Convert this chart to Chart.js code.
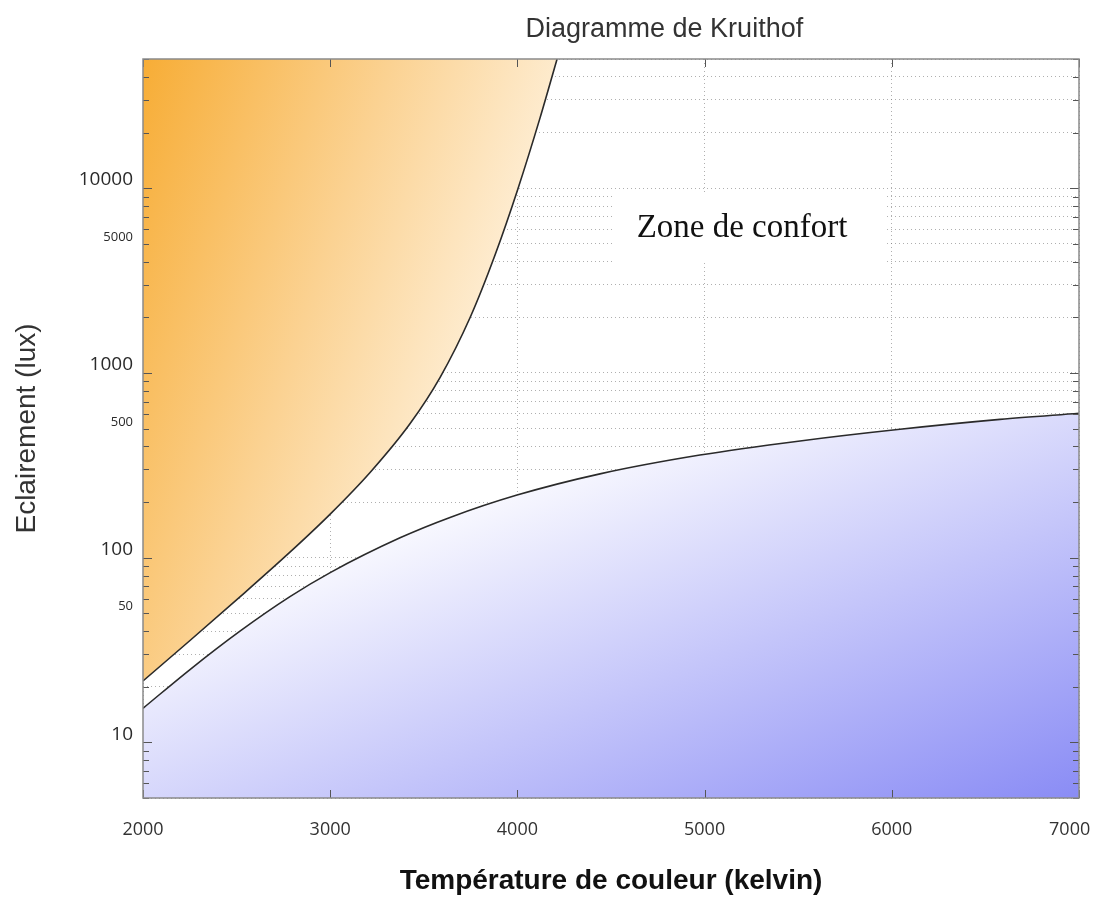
<!DOCTYPE html>
<html lang="fr">
<head>
<meta charset="UTF-8">
<title>Diagramme de Kruithof</title>
<script src="https://cdn.jsdelivr.net/npm/chart.js"></script>
<style>
  * { margin: 0; padding: 0; box-sizing: border-box; }
  html, body { width: 1097px; height: 898px; background: #fff; overflow: hidden; }
</style>
</head>
<body>
<canvas id="chart" width="1097" height="898"></canvas>
<script>
// limite haute : au-dessus, lumière trop chaude (zone orangée)
const upperK   = [2000, 2251, 2518, 2785, 3000, 3213, 3427, 3588, 3748, 3880, 4003, 4121, 4212];
const upperLux = [21.5, 35.6, 61.3, 107, 172, 289, 532, 949, 2000, 4330, 9930, 24000, 50000];

// limite basse : en dessous, lumière trop froide (zone bleutée)
const lowerK   = [2000, 2251, 2518, 2785, 3000, 3373, 3640, 3998, 4441, 4975, 5510, 6044, 6578, 7000];
const lowerLux = [15.3, 24.8, 40, 61.5, 83, 128, 165, 218, 284, 359, 428, 495, 560, 605];

// graduations
const gridLux    = [5, 6, 7, 8, 9, 10, 20, 30, 40, 50, 60, 70, 80, 90, 100, 200, 300, 400, 500, 600, 700, 800, 900,
                    1000, 2000, 3000, 4000, 5000, 6000, 7000, 8000, 9000, 10000, 20000, 30000, 40000, 50000];
const labeledLux = [10, 50, 100, 500, 1000, 5000, 10000];
const majorLux   = [10, 100, 1000, 10000];
const kelvinTicks = [2000, 3000, 4000, 5000, 6000, 7000];

const zoneLabel = { text: 'Zone de confort', k: 5200, lux: 6080 };

function orangeFill(ctx) {
    const a = ctx.chart.chartArea;
    if (!a) return 'rgba(247,176,62,0.6)';
    const w = a.right - a.left, h = a.bottom - a.top;
    const g = ctx.chart.ctx.createLinearGradient(a.left, a.top, a.left + 0.478 * w, a.top + 0.205 * h);
    g.addColorStop(0, 'rgb(247,173,54)');
    g.addColorStop(0.5, 'rgb(251,210,146)');
    g.addColorStop(1, 'rgb(255,247,234)');
    return g;
}

function blueFill(ctx) {
    const a = ctx.chart.chartArea;
    if (!a) return 'rgba(140,140,245,0.4)';
    const w = a.right - a.left, h = a.bottom - a.top;
    const g = ctx.chart.ctx.createLinearGradient(a.left + 0.49 * w, a.top + 0.4885 * h, a.left + 0.695 * w, a.top + 1.151 * h);
    g.addColorStop(0, 'rgb(255,255,255)');
    g.addColorStop(1, 'rgb(138,140,245)');
    return g;
}

const frame = {
    id: 'frame',
    afterDraw(chart) {
        const { ctx, chartArea: a, scales: { x, y } } = chart;
        ctx.save();
        // petites graduations vers l'intérieur
        ctx.strokeStyle = '#555';
        ctx.lineWidth = 1;
        ctx.beginPath();
        y.ticks.forEach(t => {
            const py = Math.round(y.getPixelForValue(t.value)) + 0.5;
            const len = majorLux.includes(t.value) ? 9 : 6;
            ctx.moveTo(a.left, py); ctx.lineTo(a.left + len, py);
            ctx.moveTo(a.right, py); ctx.lineTo(a.right - len, py);
        });
        x.ticks.forEach(t => {
            const px = Math.round(x.getPixelForValue(t.value)) + 0.5;
            ctx.moveTo(px, a.bottom); ctx.lineTo(px, a.bottom - 8);
            ctx.moveTo(px, a.top); ctx.lineTo(px, a.top + 8);
        });
        ctx.stroke();

        // cadre
        ctx.strokeStyle = '#8a8a8a';
        ctx.lineWidth = 1.5;
        ctx.strokeRect(a.left, a.top, a.right - a.left, a.bottom - a.top);

        // étiquette de la zone de confort
        const cx = x.getPixelForValue(zoneLabel.k);
        const cy = y.getPixelForValue(zoneLabel.lux);
        ctx.fillStyle = '#fff';
        ctx.fillRect(cx - 129, cy - 35, 274, 70);
        ctx.fillStyle = '#111';
        ctx.font = '33px "Liberation Serif", "Times New Roman", serif';
        ctx.textAlign = 'center';
        ctx.textBaseline = 'middle';
        ctx.fillText(zoneLabel.text, cx, cy);

        // titre
        ctx.fillStyle = '#333';
        ctx.font = '27px "Liberation Sans", Arial, sans-serif';
        ctx.fillText('Diagramme de Kruithof', a.left + 0.557 * (a.right - a.left), a.top - 29);
        ctx.restore();
    }
};

const chart = new Chart(document.getElementById('chart'), {
    type: 'line',
    data: {
        datasets: [{
            data: upperK.map((k, i) => ({ x: k, y: upperLux[i] })),
            borderColor: '#2a2a2a',
            borderWidth: 1.6,
            backgroundColor: orangeFill,
            fill: 'end',
            pointRadius: 0,
            cubicInterpolationMode: 'monotone'
        }, {
            data: lowerK.map((k, i) => ({ x: k, y: lowerLux[i] })),
            borderColor: '#2a2a2a',
            borderWidth: 1.6,
            backgroundColor: blueFill,
            fill: 'start',
            pointRadius: 0,
            cubicInterpolationMode: 'monotone'
        }]
    },
    options: {
        responsive: false,
        animation: false,
        devicePixelRatio: 1,
        layout: { padding: { left: 0, right: 18, top: 59, bottom: 0 } },
        plugins: { legend: { display: false }, tooltip: { enabled: false } },
        scales: {
            x: {
                type: 'linear',
                min: 2000,
                max: 7000,
                z: 1,
                afterFit: s => { s.height = 100; s.paddingLeft = 0; s.paddingRight = 0; },
                afterBuildTicks: s => { s.ticks = kelvinTicks.map(v => ({ value: v })); },
                grid: { color: 'rgba(110,110,110,0.55)', lineWidth: 1, drawTicks: false },
                border: { display: false, dash: [1, 3] },
                ticks: {
                    padding: 21,
                    color: '#333',
                    font: { family: '"Open Sans", sans-serif', size: 18 },
                    // le dernier libellé est décalé vers la gauche pour rester dans le cadre
                    callback: v => v === 7000 ? String(v) + '    ' : String(v)
                },
                title: {
                    display: true,
                    text: 'Température de couleur (kelvin)',
                    color: '#111',
                    font: { family: '"Liberation Sans", Arial, sans-serif', size: 28, weight: 'bold' },
                    padding: { top: 0, bottom: 0 }
                }
            },
            y: {
                type: 'logarithmic',
                min: 5,
                max: 50000,
                z: 1,
                afterFit: s => { s.width = 143; },
                afterBuildTicks: s => { s.ticks = gridLux.map(v => ({ value: v })); },
                grid: { color: 'rgba(110,110,110,0.55)', lineWidth: 1, drawTicks: false },
                border: { display: false, dash: [1, 3] },
                ticks: {
                    padding: 10,
                    color: '#2a2a2a',
                    autoSkip: false,
                    font: c => majorLux.includes(c.tick && c.tick.value)
                        ? { family: '"Open Sans", sans-serif', size: 19, lineHeight: 0.85 }
                        : { family: '"Open Sans", sans-serif', size: 13, lineHeight: 1.0 },
                    callback: v => labeledLux.includes(v) ? [String(v), ''] : ''
                },
                title: {
                    display: true,
                    text: 'Eclairement (lux)',
                    color: '#333',
                    font: { family: '"Liberation Sans", Arial, sans-serif', size: 28 },
                    padding: { top: 10, bottom: 0 }
                }
            }
        }
    },
    plugins: [frame]
});
</script>
</body>
</html>
